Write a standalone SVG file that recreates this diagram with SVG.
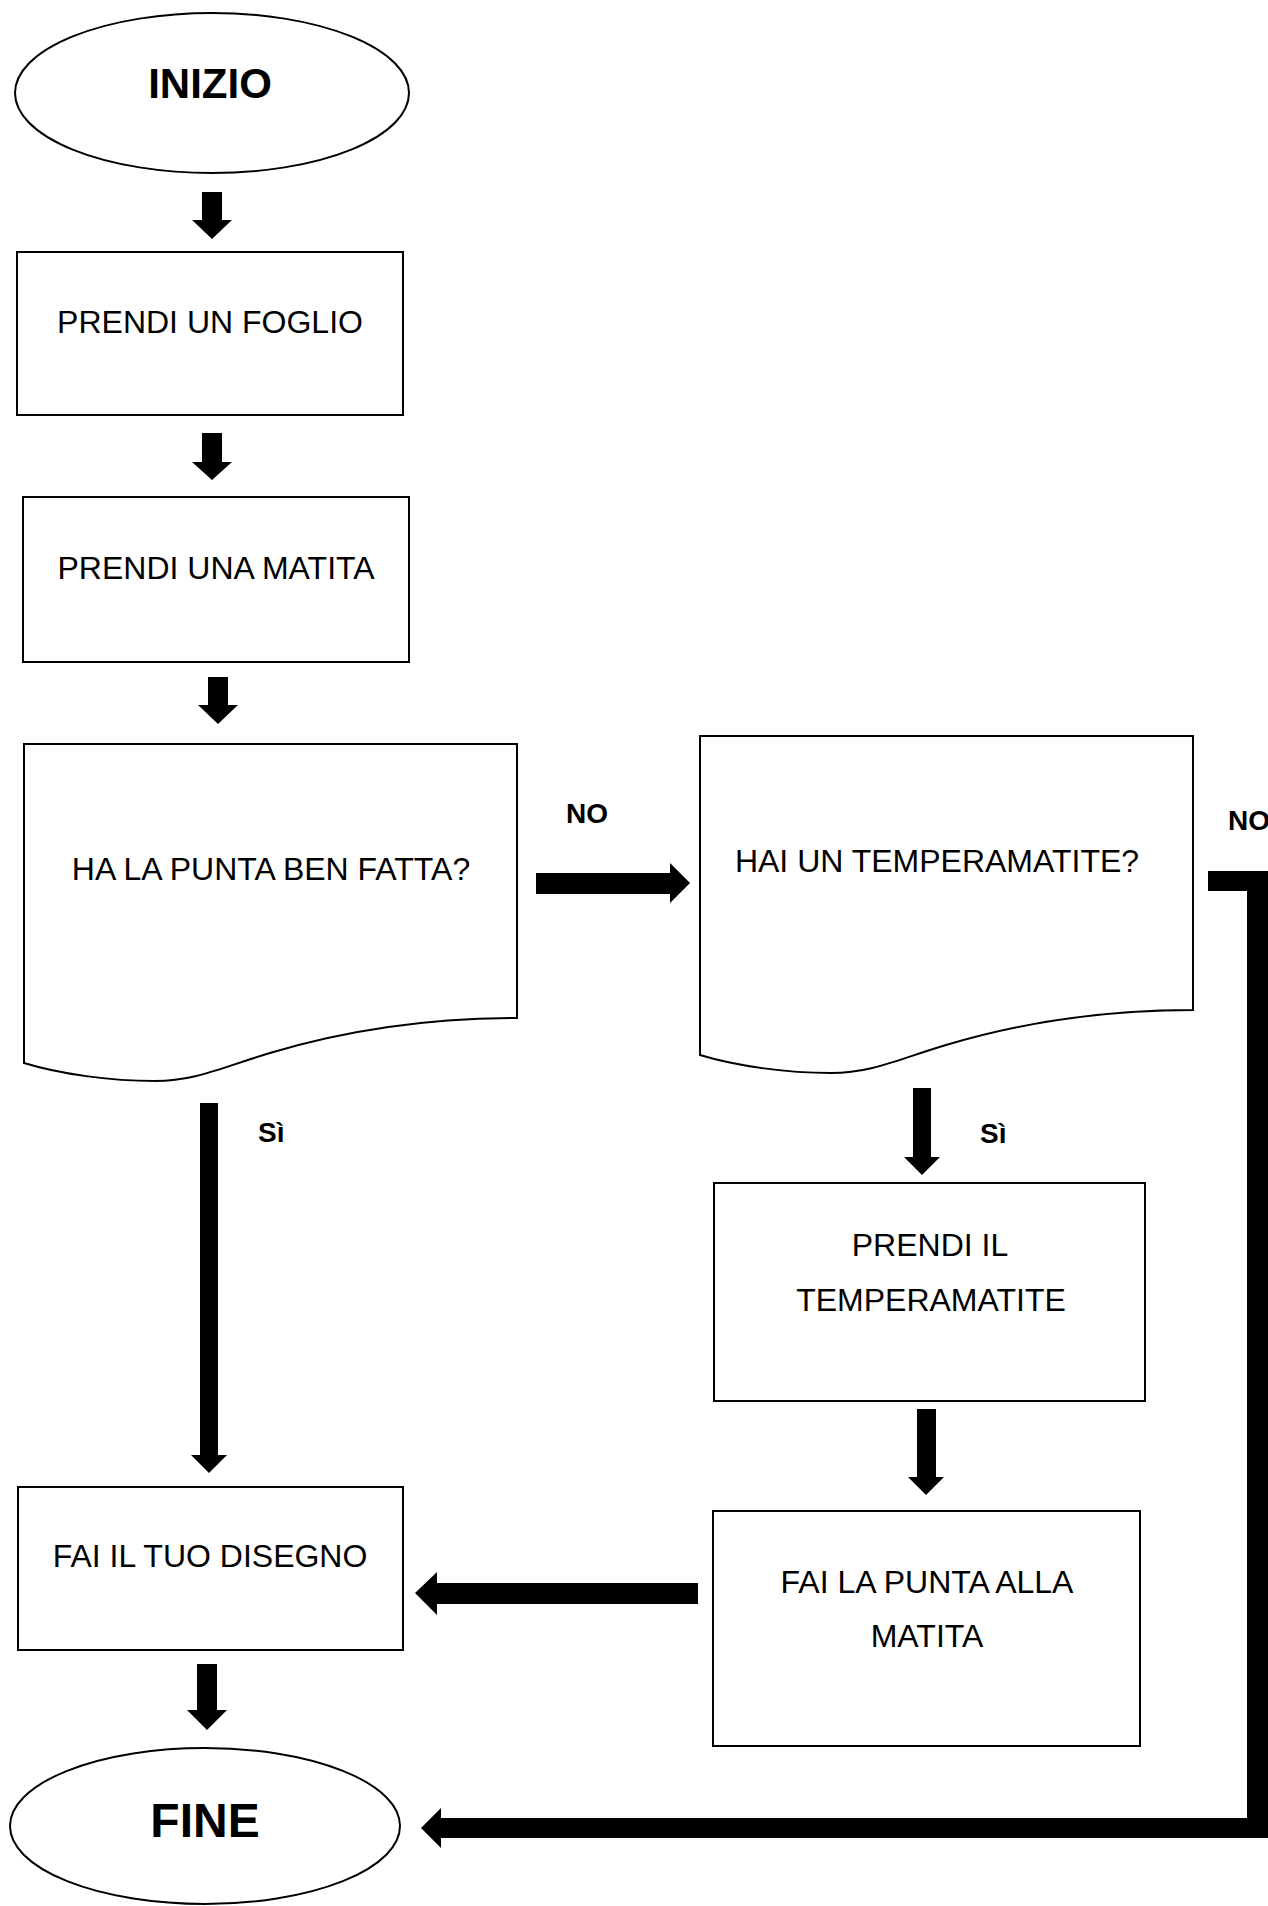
<svg xmlns="http://www.w3.org/2000/svg" width="1268" height="1906" viewBox="0 0 1268 1906">
<style>
.shape{fill:#fff;stroke:#000;stroke-width:2}
.t{font-family:"Liberation Sans",Arial,sans-serif;font-size:32px;fill:#000;text-anchor:middle}
.b{font-family:"Liberation Sans",Arial,sans-serif;font-weight:bold;fill:#000}
.arr{fill:#000;stroke:none}
</style>
<defs>
<path id="doc" d="M24,744 H517 V1018 C420,1018 340,1032 270,1053 C220,1068 195,1081 155,1081 C110,1081 60,1074 24,1063 Z"/>
</defs>
<rect width="1268" height="1906" fill="#fff"/>
<g id="inizio">
<ellipse class="shape" cx="212" cy="93" rx="197" ry="80"/>
<text class="b" x="210" y="98" font-size="42" text-anchor="middle">INIZIO</text>
</g>
<g id="prendi-foglio">
<rect class="shape" x="17" y="252" width="386" height="163"/>
<text class="t" x="210" y="333">PRENDI UN FOGLIO</text>
</g>
<g id="prendi-matita">
<rect class="shape" x="23" y="497" width="386" height="165"/>
<text class="t" x="216" y="579">PRENDI UNA MATITA</text>
</g>
<g id="punta-ben-fatta">
<use href="#doc" class="shape"/>
<text class="t" x="271" y="880">HA LA PUNTA BEN FATTA?</text>
</g>
<g id="temperamatite">
<use href="#doc" class="shape" transform="translate(676,-8)"/>
<text class="t" x="937" y="872">HAI UN TEMPERAMATITE?</text>
</g>
<g id="prendi-temperamatite">
<rect class="shape" x="714" y="1183" width="431" height="218"/>
<text class="t" x="930" y="1256">PRENDI IL</text>
<text class="t" x="931" y="1311">TEMPERAMATITE</text>
</g>
<g id="fai-punta">
<rect class="shape" x="713" y="1511" width="427" height="235"/>
<text class="t" x="927" y="1593">FAI LA PUNTA ALLA</text>
<text class="t" x="927" y="1647">MATITA</text>
</g>
<g id="fai-disegno">
<rect class="shape" x="18" y="1487" width="385" height="163"/>
<text class="t" x="210" y="1567">FAI IL TUO DISEGNO</text>
</g>
<g id="fine">
<ellipse class="shape" cx="205" cy="1826" rx="195" ry="78"/>
<text class="b" x="205" y="1837" font-size="48" text-anchor="middle">FINE</text>
</g>
<g id="connectors">
<polygon class="arr" points="202,192 222,192 222,220 232,220 212,239 192,220 202,220"/>
<polygon class="arr" points="202,433 222,433 222,462 232,462 212,480 192,462 202,462"/>
<polygon class="arr" points="208,677 228,677 228,705 238,705 218,724 198,705 208,705"/>
<polygon class="arr" points="536,873 670,873 670,863 690,883 670,903 670,894 536,894"/>
<polygon class="arr" points="200,1103 218,1103 218,1455 227,1455 209,1473 191,1455 200,1455"/>
<polygon class="arr" points="913,1088 931,1088 931,1157 940,1157 922,1175 904,1157 913,1157"/>
<polygon class="arr" points="917,1409 936,1409 936,1477 944,1477 926,1495 908,1477 917,1477"/>
<polygon class="arr" points="698,1583 698,1604 437,1604 437,1615 415,1593 437,1572 437,1583"/>
<polygon class="arr" points="197,1664 217,1664 217,1710 227,1710 207,1730 187,1710 197,1710"/>
<polygon class="arr" points="1208,871 1268,871 1268,1838 441,1838 441,1848 421,1828 441,1808 441,1818 1247,1818 1247,891 1208,891"/>
<text class="b" x="566" y="823" font-size="28">NO</text>
<text class="b" x="1228" y="830" font-size="28">NO</text>
<text class="b" x="258" y="1142" font-size="28">Sì</text>
<text class="b" x="980" y="1143" font-size="28">Sì</text>
</g>
</svg>
